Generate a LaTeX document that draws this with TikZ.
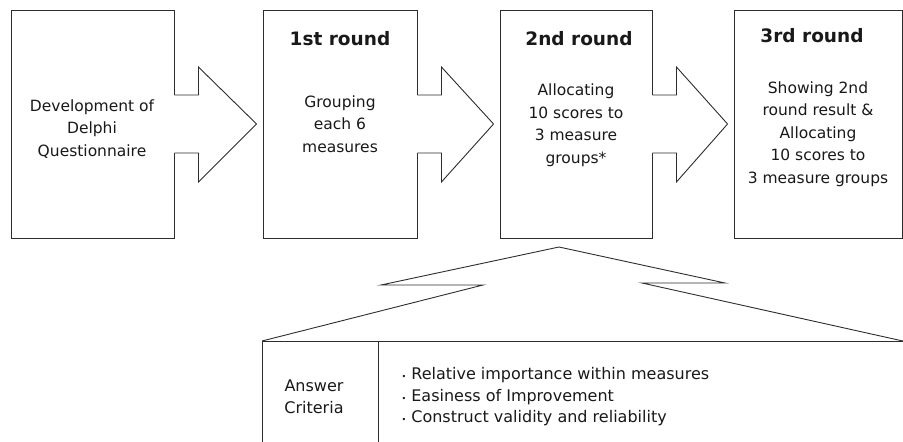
\documentclass[tikz,border=0pt]{standalone}
\usepackage{fontspec}
\setmainfont{DejaVu Sans}
\usepackage{tikz}
\usetikzlibrary{calc}
\definecolor{myline}{RGB}{45,45,45}
\definecolor{mytext}{RGB}{25,25,25}
\tikzset{
  stagebox/.style={rectangle, draw=myline, fill=white, line width=0.9pt,
    inner sep=0pt},
  blockarrow/.style={draw=myline, line width=0.9pt, line join=miter},
  ttl/.style={font=\fontsize{18.5}{20}\selectfont\bfseries, text=mytext},
  body/.style={font=\fontsize{15.5}{22.5}\selectfont, text=mytext, align=center},
  crit/.style={font=\fontsize{16}{21.5}\selectfont, text=mytext}
}

\begin{document}
\begin{tikzpicture}[x=1pt, y=-1pt]
\useasboundingbox (0,0) rectangle (903,442);
\clip (0,0) rectangle (903,442);
% stage boxes
\node[stagebox, minimum width=163, minimum height=228] (dev) at (92.5,124) {};
\node[stagebox, minimum width=154, minimum height=228] (r1) at (340,124) {};
\node[stagebox, minimum width=152, minimum height=228] (r2) at (576,124) {};
\node[stagebox, minimum width=168, minimum height=228] (r3) at (818,124) {};
% block arrows
\foreach \a/\b in {dev/r1, r1/r2, r2/r3} {
  \fill[white] ($(\a.east)+(-1,-29)$) -- ($(\a.east)+(24,-29)$)
    -- ($(\a.east)+(24,-57)$) -- ($(\b.west)+(-6,0)$)
    -- ($(\a.east)+(24,58)$) -- ($(\a.east)+(24,29)$)
    -- ($(\a.east)+(-1,29)$) -- cycle;
  \draw[blockarrow] ($(\a.east)+(0,-29)$) -- ($(\a.east)+(24,-29)$)
    -- ($(\a.east)+(24,-57)$) -- ($(\b.west)+(-6,0)$)
    -- ($(\a.east)+(24,58)$) -- ($(\a.east)+(24,29)$)
    -- ($(\a.east)+(0,29)$);
}
% titles
\node[ttl] (t1) at (340,39) {1st round};
\node[ttl] (t2) at (579,39) {2nd round};
\node[ttl] (t3) at (812,36) {3rd round};
% box texts
\node[body] (x0) at (92,129) {Development of\\Delphi\\Questionnaire};
\node[body] (x1) at (340,124) {Grouping\\each 6\\measures};
\node[body] (x2) at (576,125) {Allocating\\10 scores to\\3 measure\\groups*};
\node[body] (x3) at (818,134) {Showing 2nd\\round result \&\\Allocating\\10 scores to\\3 measure groups};
% answer criteria
\node[stagebox, minimum width=116, minimum height=140, anchor=north west] (ansc) at (262,341) {};
\node[stagebox, minimum width=526, minimum height=140, anchor=north west] (ansl) at (378,341) {};
\node[crit, align=center] (ansct) at (314,397) {Answer\\Criteria};
\node[crit, align=left, anchor=west] (anslt) at (398,397)
  {{\fontsize{8}{8}\selectfont\textbullet}\ Relative importance within measures\\
   {\fontsize{8}{8}\selectfont\textbullet}\ Easiness of Improvement\\
   {\fontsize{8}{8}\selectfont\textbullet}\ Construct validity and reliability};
% callout wedge
\coordinate (peak) at (559,247);
\draw[blockarrow] (ansc.north west) -- (483,285) -- (381,285) -- (peak)
  -- (725,283) -- (642,283) -- ($(ansl.north east)+(-2,0)$);
\end{tikzpicture}
\end{document}
